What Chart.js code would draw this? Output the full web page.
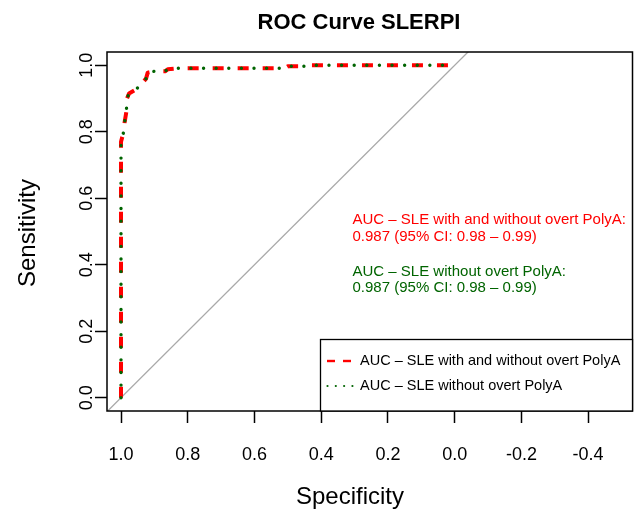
<!DOCTYPE html>
<html>
<head>
<meta charset="utf-8">
<script src="https://cdn.jsdelivr.net/npm/chart.js@4/dist/chart.umd.min.js"></script>
<style>
html,body{margin:0;padding:0;background:#ffffff;}
#wrap{width:634px;height:512px;}
</style>
</head>
<body>
<div id="wrap"><canvas id="c" width="634" height="512"></canvas></div>
<script>
// ---- data ----
const specificityAll = [1.0, 1.0, 0.992, 0.989, 0.984, 0.982, 0.976, 0.957, 0.94, 0.925, 0.92, 0.90, 0.868, 0.86, 0.83, 0.51, 0.50, 0.44, 0.43, 0.0];
const sensitivityAll = [0.0, 0.77, 0.80, 0.83, 0.86, 0.90, 0.915, 0.926, 0.942, 0.96, 0.978, 0.982, 0.982, 0.988, 0.991, 0.991, 0.997, 0.997, 1.0, 1.0];
const specificityNoPolyA = [1.0, 1.0, 0.992, 0.989, 0.984, 0.982, 0.976, 0.957, 0.94, 0.925, 0.92, 0.90, 0.868, 0.86, 0.83, 0.51, 0.50, 0.44, 0.43, 0.0];
const sensitivityNoPolyA = [0.0, 0.77, 0.80, 0.83, 0.86, 0.90, 0.915, 0.926, 0.942, 0.96, 0.978, 0.982, 0.982, 0.988, 0.991, 0.991, 0.997, 0.997, 1.0, 1.0];
const diagonalSpec = [1.2, -0.2];            // identity line: sensitivity = 1 - specificity
const xTickValues = [1.0, 0.8, 0.6, 0.4, 0.2, 0.0, -0.2, -0.4];
const xTickLabels = ['1.0', '0.8', '0.6', '0.4', '0.2', '0.0', '-0.2', '-0.4'];
const yTickValues = [0.0, 0.2, 0.4, 0.6, 0.8, 1.0];
const yTickLabels = ['0.0', '0.2', '0.4', '0.6', '0.8', '1.0'];
const seriesNames = ['AUC \u2013 SLE with and without overt PolyA', 'AUC \u2013 SLE without overt PolyA'];
const aucLines = [
  ['AUC \u2013 SLE with and without overt PolyA:', '0.987 (95% CI: 0.98 \u2013 0.99)'],
  ['AUC \u2013 SLE without overt PolyA:', '0.987 (95% CI: 0.98 \u2013 0.99)']
];
const chartTitle = 'ROC Curve SLERPI';
const xTitle = 'Specificity';
const yTitle = 'Sensitivity';

// ---- styles ----
const RED = '#ff0000';
const GREEN = '#006400';
const FONT = '"Liberation Sans", Arial, Helvetica, sans-serif';

const toPts = (xs, ys) => xs.map((x, i) => ({x: x, y: ys[i]}));

const decor = {
  id: 'decor',
  afterDatasetsDraw(chart) {
    const ctx = chart.ctx;
    const a = chart.chartArea;
    ctx.save();
    // plot box
    ctx.strokeStyle = '#000';
    ctx.lineWidth = 1.5;
    ctx.strokeRect(a.left, a.top, a.right - a.left, a.bottom - a.top);

    // AUC annotation text
    ctx.font = '15px ' + FONT;
    ctx.textAlign = 'left';
    ctx.textBaseline = 'middle';
    ctx.fillStyle = RED;
    ctx.fillText(aucLines[0][0], 352.5, 220);
    ctx.fillText(aucLines[0][1], 352.5, 236.5);
    ctx.fillStyle = GREEN;
    ctx.fillText(aucLines[1][0], 352.5, 271.5);
    ctx.fillText(aucLines[1][1], 352.5, 288);

    // legend
    const lx = 320.5, ly = 339.5, lr = a.right, lb = a.bottom;
    ctx.fillStyle = '#fff';
    ctx.fillRect(lx, ly, lr - lx, lb - ly);
    ctx.strokeStyle = '#000';
    ctx.lineWidth = 1.3;
    ctx.strokeRect(lx, ly, lr - lx, lb - ly);
    // red dashed sample
    ctx.strokeStyle = RED;
    ctx.lineWidth = 2.4;
    ctx.setLineDash([8, 8]);
    ctx.lineCap = 'butt';
    ctx.beginPath(); ctx.moveTo(327, 361); ctx.lineTo(351, 361); ctx.stroke();
    // green dotted sample
    ctx.strokeStyle = GREEN;
    ctx.lineWidth = 2.2;
    ctx.setLineDash([0.01, 8.3]);
    ctx.lineCap = 'round';
    ctx.beginPath(); ctx.moveTo(327.5, 386); ctx.lineTo(354, 386); ctx.stroke();
    ctx.setLineDash([]);
    ctx.lineCap = 'butt';
    ctx.fillStyle = '#000';
    ctx.font = '14.5px ' + FONT;
    ctx.fillText(seriesNames[0], 360, 361);
    ctx.fillText(seriesNames[1], 360, 386);

    // titles
    ctx.textAlign = 'center';
    ctx.font = 'bold 22px ' + FONT;
    ctx.fillText(chartTitle, 359, 23);
    ctx.font = '24px ' + FONT;
    ctx.fillText(xTitle, 350, 497);
    ctx.translate(28, 233);
    ctx.rotate(-Math.PI / 2);
    ctx.fillText(yTitle, 0, 0);
    ctx.restore();
  }
};

new Chart(document.getElementById('c'), {
  type: 'scatter',
  data: {
    datasets: [
      {
        label: seriesNames[1],
        data: toPts(specificityNoPolyA, sensitivityNoPolyA),
        showLine: true,
        borderColor: GREEN,
        backgroundColor: GREEN,
        borderWidth: 3.4,
        borderDash: [0.01, 12.6],
        borderCapStyle: 'round',
        borderJoinStyle: 'round',
        pointRadius: 0,
        tension: 0,
        order: 0
      },
      {
        label: seriesNames[0],
        data: toPts(specificityAll, sensitivityAll),
        showLine: true,
        borderColor: RED,
        backgroundColor: RED,
        borderWidth: 4,
        borderDash: [11, 14],
        borderCapStyle: 'butt',
        borderJoinStyle: 'round',
        pointRadius: 0,
        tension: 0,
        order: 1
      },
      {
        label: 'identity',
        data: diagonalSpec.map(s => ({x: s, y: 1 - s})),
        showLine: true,
        borderColor: '#a9a9a9',
        borderWidth: 1.3,
        pointRadius: 0,
        order: 2
      }
    ]
  },
  options: {
    responsive: false,
    devicePixelRatio: 1,
    animation: false,
    layout: {padding: {top: 52, right: 1.5, left: 0, bottom: 0}},
    plugins: {
      legend: {display: false},
      title: {display: false},
      tooltip: {enabled: false}
    },
    scales: {
      x: {
        type: 'linear',
        reverse: true,
        min: -0.533,
        max: 1.042,
        afterBuildTicks: s => { s.ticks = xTickValues.map(v => ({value: v})); },
        afterFit: s => { s.height = 101; },
        border: {display: false},
        grid: {display: true, drawOnChartArea: false, drawTicks: true, tickLength: 12, tickColor: '#000', tickWidth: 1.5},
        ticks: {
          autoSkip: false,
          maxRotation: 0,
          minRotation: 0,
          padding: 21,
          color: '#000',
          font: {family: FONT, size: 18},
          callback: v => { const i = xTickValues.findIndex(t => Math.abs(t - v) < 1e-9); return i >= 0 ? xTickLabels[i] : ''; }
        }
      },
      y: {
        type: 'linear',
        min: -0.04,
        max: 1.04,
        afterBuildTicks: s => { s.ticks = yTickValues.map(v => ({value: v})); },
        afterFit: s => { s.width = 107; },
        border: {display: false},
        grid: {display: true, drawOnChartArea: false, drawTicks: true, tickLength: 12, tickColor: '#000', tickWidth: 1.5},
        ticks: {
          autoSkip: false,
          minRotation: 90,
          maxRotation: 90,
          crossAlign: 'center',
          padding: -4.5,
          color: '#000',
          font: {family: FONT, size: 18},
          callback: v => { const i = yTickValues.findIndex(t => Math.abs(t - v) < 1e-9); return i >= 0 ? yTickLabels[i] : ''; }
        }
      }
    }
  },
  plugins: [decor]
});
</script>
</body>
</html>
